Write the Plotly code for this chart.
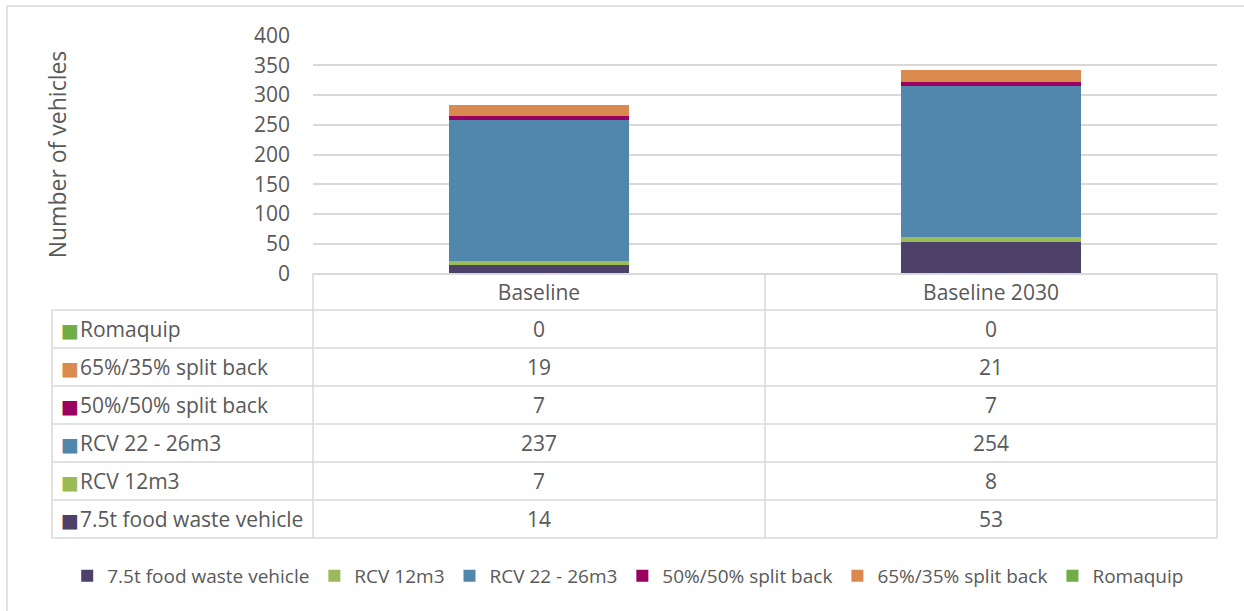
import plotly.graph_objects as go

# ---- data ----
categories = ["Baseline", "Baseline 2030"]
series_names = ["7.5t food waste vehicle", "RCV 12m3", "RCV 22 - 26m3",
                "50%/50% split back", "65%/35% split back", "Romaquip"]
food_waste_7_5t = [14, 53]
rcv_12m3 = [7, 8]
rcv_22_26m3 = [237, 254]
split_50_50 = [7, 7]
split_65_35 = [19, 21]
romaquip = [0, 0]
series_values = [food_waste_7_5t, rcv_12m3, rcv_22_26m3, split_50_50, split_65_35, romaquip]
series_colors = ["#4d416a", "#9bbb59", "#5186ad", "#9a005f", "#da8a4f", "#70ad47"]
y_ticks = [0, 50, 100, 150, 200, 250, 300, 350, 400]

# ---- geometry (pixels) ----
W, H = 1244, 611
FONT = "Open Sans"
TXT = "#595959"
GRID = "#d9d9d9"

def px(x):
    return x / W

def py(y):
    return 1 - y / H

plot_l, plot_r, plot_t, plot_b = 313, 1217, 35.7, 273.3
tab_l = 52
row_h = 38
tab_rows_top = 310
mid_x = (plot_l + plot_r) / 2

fig = go.Figure()
for name, vals, col in zip(series_names, series_values, series_colors):
    fig.add_trace(go.Bar(x=categories, y=vals, name=name,
                         marker=dict(color=col, line=dict(width=0))))

shapes = []
def line(x0, y0, x1, y1, color=GRID, w=1.5):
    shapes.append(dict(type="line", xref="paper", yref="paper",
                       x0=px(x0), y0=py(y0), x1=px(x1), y1=py(y1),
                       line=dict(color=color, width=w)))

# outer chart border (left and top visible)
line(7, 6, 7, H + 5)
line(7, 6, W + 5, 6)

n_rows = len(series_names)
tab_bottom = tab_rows_top + n_rows * row_h
for i in range(n_rows + 1):
    yy = tab_rows_top + i * row_h
    line(tab_l, yy, plot_r, yy)
line(plot_l, plot_b, plot_l, tab_bottom)
line(mid_x, plot_b, mid_x, tab_bottom)
line(plot_r, plot_b, plot_r, tab_bottom)
line(tab_l, tab_rows_top, tab_l, tab_bottom)

annotations = []
col_centers = [(plot_l + mid_x) / 2, (mid_x + plot_r) / 2]
for r, idx in enumerate(reversed(range(n_rows))):
    yc = tab_rows_top + r * row_h + row_h / 2
    # colour key square
    annotations.append(dict(
        xref="paper", yref="paper", x=px(tab_l + 7), y=py(yc + 1),
        xanchor="left", yanchor="middle", showarrow=False,
        text="■", font=dict(family="DejaVu Sans", size=19, color=series_colors[idx])))
    annotations.append(dict(
        xref="paper", yref="paper", x=px(tab_l + 26), y=py(yc),
        xanchor="left", yanchor="middle", showarrow=False,
        text=series_names[idx],
        font=dict(family=FONT, size=21, color=TXT)))
    for c, xc in enumerate(col_centers):
        annotations.append(dict(
            xref="paper", yref="paper", x=px(xc), y=py(yc),
            xanchor="center", yanchor="middle", showarrow=False,
            text=str(series_values[idx][c]),
            font=dict(family=FONT, size=21, color=TXT)))

fig.update_layout(
    width=W, height=H,
    margin=dict(l=0, r=0, t=0, b=0, autoexpand=False),
    paper_bgcolor="white", plot_bgcolor="white",
    barmode="stack", bargap=0.602,
    font=dict(family=FONT, size=21, color=TXT),
    shapes=shapes, annotations=annotations,
    showlegend=True,
    legend=dict(orientation="h", x=0.505, xanchor="center", y=py(576), yanchor="middle",
                traceorder="normal", font=dict(family=FONT, size=19, color=TXT),
                itemclick=False, itemdoubleclick=False, itemwidth=30),
    xaxis=dict(domain=[px(plot_l), px(plot_r)], showgrid=False, zeroline=False,
               showline=True, linecolor=GRID, linewidth=1.5,
               ticks="", ticklabelstandoff=0, automargin=False,
               tickfont=dict(family=FONT, size=21, color=TXT)),
    yaxis=dict(domain=[py(plot_b), py(plot_t)], range=[0, 400],
               tickvals=y_ticks, showgrid=True, gridcolor=GRID, gridwidth=1.5,
               zeroline=False, showline=False, ticks="", ticklabelstandoff=22,
               automargin=False,
               tickfont=dict(family=FONT, size=21, color=TXT),
               title=dict(text="Number of vehicles", standoff=180,
                          font=dict(family=FONT, size=23, color=TXT))),
)

fig.write_html("out.html", config={"displayModeBar": False},
               post_script="document.body.style.margin='0';document.body.style.overflow='hidden';")
